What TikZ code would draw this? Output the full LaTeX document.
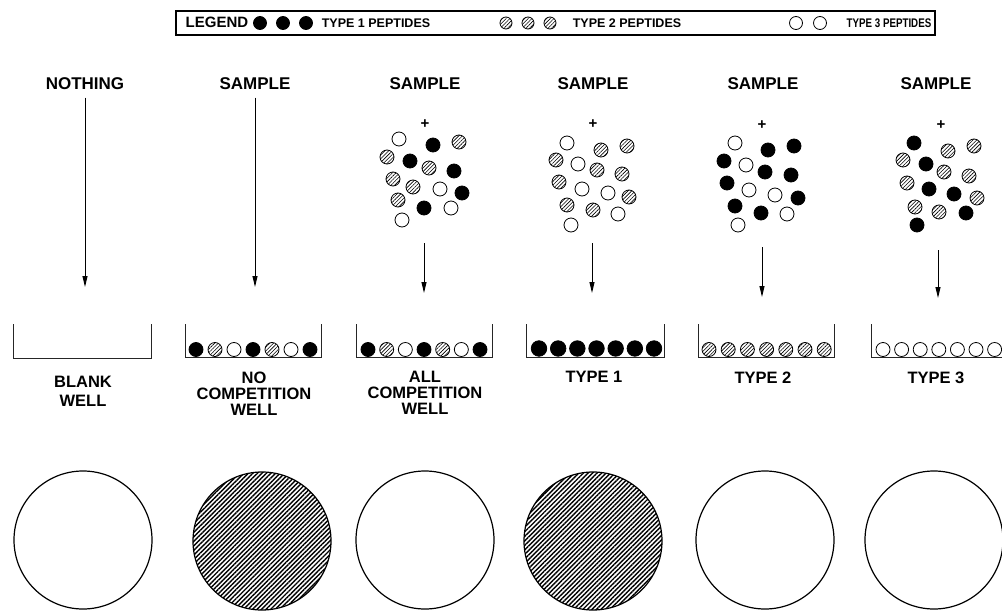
\documentclass[tikz,border=0pt]{standalone}
\usepackage{fontspec}
\setmainfont{Liberation Sans}
\usetikzlibrary{patterns.meta,arrows.meta}
\tikzset{
  ball/.style={circle, inner sep=0pt, minimum size=14pt, draw=black, line width=0.8pt},
  blk/.style={ball, fill=black},
  hat/.style={ball, pattern={Lines[angle=45,distance=2.6pt,line width=0.6pt]}},
  opn/.style={ball, fill=white},
  bigblk/.style={blk, minimum size=15.5pt},
  ttl/.style={font=\bfseries\fontsize{17}{16}\selectfont},
  lbl/.style={font=\bfseries\fontsize{16.5}{16}\selectfont, align=center},
  leg/.style={font=\bfseries\fontsize{12.5}{13}\selectfont},
  legball/.style={minimum size=13pt},
  plus/.style={font=\bfseries\fontsize{15}{15}\selectfont, inner sep=0pt},
  wellline/.style={line width=0.9pt, draw=black!85},
  flow/.style={line width=1pt, -{Triangle[length=11pt,width=5pt]}},
  dish/.style={circle, draw=black, line width=1.2pt, minimum size=138pt, inner sep=0pt},
  hatched/.style={pattern={Lines[angle=45,distance=3.2pt,line width=1.4pt]}},
}
\begin{document}
\begin{tikzpicture}[x=1pt,y=-1pt]
\useasboundingbox (0,0) rectangle (1002,613);

% legend
\draw[line width=1.2pt] (176,11) rectangle (935,35);
\node[leg, font=\bfseries\fontsize{15}{15}\selectfont] (legtitle) at (217,22) {LEGEND};
\node[blk, legball] (l1a) at (260,23) {};
\node[blk, legball] (l1b) at (283,23) {};
\node[blk, legball] (l1c) at (306,23) {};
\node[leg] (l1t) at (376,23) {TYPE 1 PEPTIDES};
\node[hat, legball, minimum size=12pt] (l2a) at (506,23) {};
\node[hat, legball, minimum size=12pt] (l2b) at (528,23) {};
\node[hat, legball, minimum size=12pt] (l2c) at (550,23) {};
\node[leg] (l2t) at (627,23) {TYPE 2 PEPTIDES};
\node[opn, legball] (l3a) at (796,23) {};
\node[opn, legball] (l3b) at (820,23) {};
\node[leg] (l3t) at (889,23) {\scalebox{0.78}[1]{TYPE 3 PEPTIDES}};

% column headings
\node[ttl] (h1) at (85,84) {NOTHING};
\node[ttl] (h2) at (255,84) {SAMPLE};
\node[ttl] (h3) at (425,84) {SAMPLE};
\node[ttl] (h4) at (593,84) {SAMPLE};
\node[ttl] (h5) at (763,84) {SAMPLE};
\node[ttl] (h6) at (936,84) {SAMPLE};

% plus signs above the mixtures
\node[plus] (p3) at (425,124) {+};
\node[plus] (p4) at (593,124) {+};
\node[plus] (p5) at (762,125) {+};
\node[plus] (p6) at (941,125) {+};

% peptide mixtures
\foreach \x/\y/\t [count=\i] in {
  399/139/opn, 433/145/blk, 459/142/hat, 387/157/hat, 410/161/blk,
  429/168/hat, 454/171/blk, 393/179/hat, 413/187/hat, 440/189/opn,
  462/193/blk, 398/200/hat, 424/208/blk, 451/208/opn, 402/220/opn}
  \node[\t] (mA\i) at (\x,\y) {};
\foreach \x/\y/\t [count=\i] in {
  567/143/opn, 601/150/hat, 627/146/hat, 556/160/hat, 578/164/opn,
  597/170/hat, 622/174/hat, 559/182/hat, 582/189/opn, 608/193/opn,
  629/197/hat, 567/205/hat, 593/210/hat, 618/214/opn, 571/225/opn}
  \node[\t] (mB\i) at (\x,\y) {};
\foreach \x/\y/\t [count=\i] in {
  735/143/opn, 768/150/blk, 794/146/blk, 724/161/blk, 746/165/opn,
  765/172/blk, 791/175/blk, 727/183/blk, 749/190/opn, 775/195/opn,
  798/198/blk, 735/206/blk, 761/213/blk, 787/214/opn, 738/225/opn}
  \node[\t] (mC\i) at (\x,\y) {};
\foreach \x/\y/\t [count=\i] in {
  914/143/blk, 948/151/hat, 974/146/hat, 903/160/hat, 926/164/blk,
  944/172/hat, 969/176/hat, 907/183/hat, 929/189/blk, 954/194/blk,
  977/198/hat, 915/207/hat, 939/212/hat, 966/213/blk, 917/225/blk}
  \node[\t] (mD\i) at (\x,\y) {};

% arrow end points
\coordinate (e1) at (85,287);
\coordinate (e2) at (255,287);
\coordinate (s3) at (424,243);
\coordinate (e3) at (424,293);
\coordinate (s4) at (592,243);
\coordinate (e4) at (592,293);
\coordinate (s5) at (762,247);
\coordinate (e5) at (762,297);
\coordinate (s6) at (938,250);
\coordinate (e6) at (938,298);

\draw[flow] (h1.south) ++(0,4) -- (e1);
\draw[flow] (h2.south) ++(0,4) -- (e2);
\draw[flow] (s3) -- (e3);
\draw[flow] (s4) -- (e4);
\draw[flow] (s5) -- (e5);
\draw[flow] (s6) -- (e6);

% wells
\draw[wellline] (13,324) -- (13,358) -- (151,358) -- (151,324);
\draw[wellline] (185,324) -- (185,357) -- (321,357) -- (321,324);
\draw[wellline] (356,324) -- (356,357) -- (492,357) -- (492,324);
\draw[wellline] (526,324) -- (526,357) -- (664,357) -- (664,324);
\draw[wellline] (698,324) -- (698,357) -- (834,357) -- (834,324);
\draw[wellline] (871,324) -- (871,357) -- (1002,357);

% bound peptides in the wells
\foreach \t [count=\i] in {blk,hat,opn,blk,hat,opn,blk}
  \node[\t] (wb\i) at ({196+19*(\i-1)},349.5) {};
\foreach \t [count=\i] in {blk,hat,opn,blk,hat,opn,blk}
  \node[\t] (wc\i) at ({368+18.67*(\i-1)},349.5) {};
\foreach \i in {1,...,7}
  \node[bigblk] (wd\i) at ({539+19.17*(\i-1)},348.5) {};
\foreach \i in {1,...,7}
  \node[hat] (we\i) at ({709+19.2*(\i-1)},349.5) {};
\foreach \i in {1,...,7}
  \node[opn] (wf\i) at ({883+18.6*(\i-1)},349.5) {};

% well captions
\node[lbl, font=\bfseries\fontsize{16.5}{18.5}\selectfont, anchor=north] (c1) at (83,373) {BLANK\\WELL};
\node[lbl, anchor=north] (c2) at (254,368) {NO\\COMPETITION\\WELL};
\node[lbl, anchor=north] (c3) at (425,368) {ALL\\COMPETITION\\WELL};
\node[lbl, anchor=north] (c4) at (594,368) {TYPE 1};
\node[lbl, anchor=north] (c5) at (763,368) {TYPE 2};
\node[lbl, anchor=north] (c6) at (936,368) {TYPE 3};

% read-out spots
\node[dish] (d1) at (83,540) {};
\node[dish, hatched] (d2) at (262,541) {};
\node[dish] (d3) at (425,540) {};
\node[dish, hatched] (d4) at (593,541) {};
\node[dish] (d5) at (765,540) {};
\node[dish] (d6) at (934,540) {};
\end{tikzpicture}
\end{document}
